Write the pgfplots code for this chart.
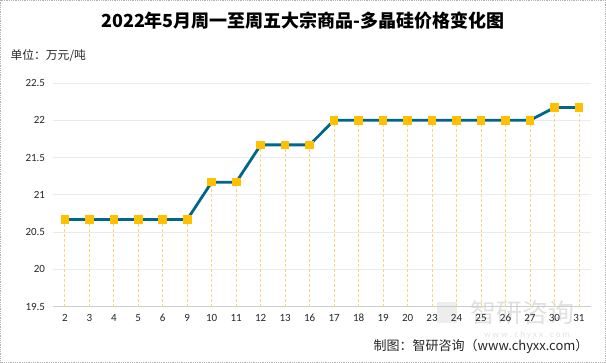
\documentclass[border=0pt]{standalone}
\usepackage{fontspec}
\setmainfont{Carlito}
\newfontfamily\cjk{Noto Sans CJK SC}
\usepackage{pgfplots}
\pgfplotsset{compat=1.18}
\definecolor{linec}{HTML}{00668A}
\definecolor{markc}{HTML}{FFC000}
\definecolor{dropc}{HTML}{FFD27F}
\definecolor{gridc}{HTML}{EBEBEB}
\begin{document}
\begin{tikzpicture}
\path[use as bounding box] (0pt,0pt) rectangle (606pt,363pt);
\draw[gray!60, densely dotted, line width=0.8pt] (0.5pt,0.5pt) rectangle (605.5pt,362.5pt);
% watermark
\fill[gray!20, opacity=0.7] (437pt,40pt) rectangle (457pt,61pt);
\node[font=\cjk\fontsize{26}{28}\selectfont, text=gray!30, opacity=0.8, anchor=west] at (467pt,50pt) {智研咨询};
\node[font=\fontsize{9}{10}\selectfont, text=gray!30, opacity=0.8] at (527pt,28pt) {w w w . c h y x x . c o m};
\begin{axis}[
  at={(52.6pt,56.3pt)}, anchor=south west,
  scale only axis, width=538.6pt, height=223.7pt,
  xmin=-0.5, xmax=21.5, ymin=19.5, ymax=22.5,
  xtick={0,...,21},
  xticklabels={2,3,4,5,6,9,10,11,12,13,16,17,18,19,20,23,24,25,26,27,30,31},
  ytick={19.5,20,20.5,21,21.5,22,22.5},
  yticklabels={19.5,20,20.5,21,21.5,22,22.5},
  axis x line*=bottom, axis y line*=left,
  x axis line style={draw=gray!40, -},
  y axis line style={draw=none},
  ymajorgrids, grid style={gridc, line width=0.8pt},
  major tick length=0pt,
  tick label style={font=\fontsize{11}{12}\selectfont, text=black!85},
  xticklabel style={yshift=-3pt, text height=8pt, text depth=0pt},
  yticklabel style={xshift=-4pt},
  clip=false,
]
\addplot[ycomb, dropc, densely dashed, line width=0.8pt, mark=none] coordinates {
(0,20.67)(1,20.67)(2,20.67)(3,20.67)(4,20.67)(5,20.67)(6,21.17)(7,21.17)(8,21.67)(9,21.67)(10,21.67)(11,22.0)(12,22.0)(13,22.0)(14,22.0)(15,22.0)(16,22.0)(17,22.0)(18,22.0)(19,22.0)(20,22.17)(21,22.17)};
\addplot[linec, line width=2.8pt, mark=square*, mark size=3.8pt, mark options={fill=markc, draw=markc, line width=0pt}] coordinates {
(0,20.67)(1,20.67)(2,20.67)(3,20.67)(4,20.67)(5,20.67)(6,21.17)(7,21.17)(8,21.67)(9,21.67)(10,21.67)(11,22.0)(12,22.0)(13,22.0)(14,22.0)(15,22.0)(16,22.0)(17,22.0)(18,22.0)(19,22.0)(20,22.17)(21,22.17)};
\end{axis}
\node[font=\cjk\bfseries\fontsize{18}{20}\selectfont] at (303pt,342pt) {2022年5月周一至周五大宗商品-多晶硅价格变化图};
\node[font=\cjk\fontsize{11.8}{13}\selectfont, anchor=west, text=black!85] at (7pt,307pt) {单位：万元/吨};
\node[font=\cjk\fontsize{13}{14}\selectfont, anchor=east, text=black!85] at (592pt,17pt) {制图：智研咨询（www.chyxx.com）};
\end{tikzpicture}
\end{document}
